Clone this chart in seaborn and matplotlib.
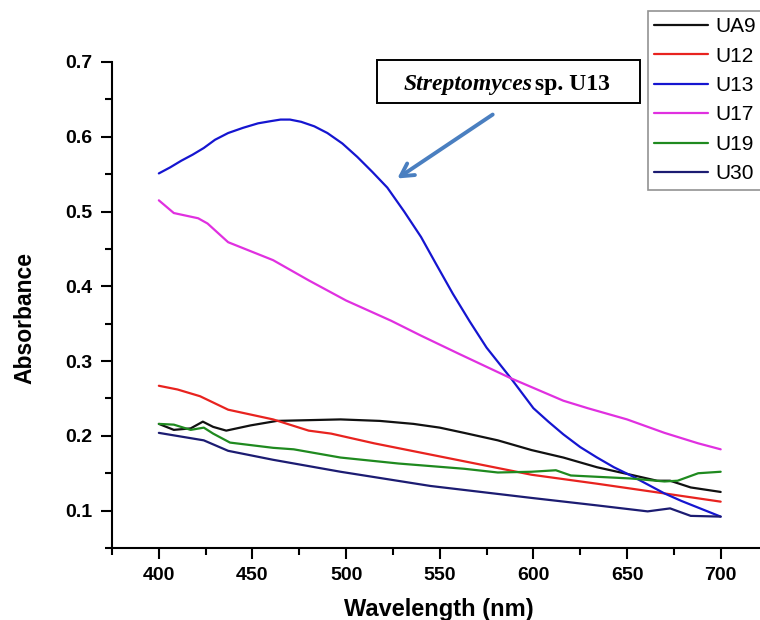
import pandas as pd
import matplotlib
matplotlib.use("Agg")
import matplotlib.pyplot as plt
from matplotlib.ticker import MultipleLocator
import seaborn as sns

# absorbance spectra
wl_ua9 = [400, 408, 417, 423.5, 429, 436, 449, 463, 480, 497, 518, 536, 550, 563, 581, 599, 616, 634, 652, 666, 673, 684, 700]
abs_ua9 = [0.216, 0.208, 0.210, 0.219, 0.212, 0.207, 0.214, 0.220, 0.221, 0.222, 0.220, 0.216, 0.211, 0.204, 0.194, 0.181, 0.171, 0.158, 0.148, 0.140, 0.140, 0.131, 0.125]

wl_u12 = [400, 410, 422, 437, 461, 480, 492, 515, 545, 599, 634, 670, 700]
abs_u12 = [0.267, 0.262, 0.253, 0.235, 0.222, 0.207, 0.203, 0.190, 0.175, 0.148, 0.136, 0.123, 0.112]

wl_u13 = [400, 406, 412, 418, 424, 430, 437, 445, 453, 460, 465, 470, 476, 483, 490, 498, 506, 514, 522, 531, 540, 548, 557, 566, 575, 588, 600, 608, 616, 625, 634, 643, 652, 661, 670, 679, 688, 700]
abs_u13 = [0.551, 0.559, 0.568, 0.576, 0.585, 0.596, 0.605, 0.612, 0.618, 0.621, 0.623, 0.623, 0.620, 0.614, 0.605, 0.591, 0.573, 0.553, 0.532, 0.500, 0.466, 0.430, 0.390, 0.353, 0.318, 0.277, 0.237, 0.219, 0.202, 0.185, 0.171, 0.158, 0.147, 0.135, 0.123, 0.113, 0.104, 0.092]

wl_u17 = [400, 408, 421, 426, 437, 461, 480, 500, 524, 540, 560, 588, 616, 629, 650, 670, 688, 700]
abs_u17 = [0.515, 0.498, 0.491, 0.484, 0.459, 0.435, 0.408, 0.381, 0.354, 0.334, 0.310, 0.277, 0.247, 0.237, 0.222, 0.204, 0.190, 0.182]

wl_u19 = [400, 408, 417, 424, 429, 438, 461, 472, 497, 528, 563, 581, 599, 612, 620, 652, 670, 677, 688, 700]
abs_u19 = [0.216, 0.215, 0.208, 0.211, 0.203, 0.191, 0.184, 0.182, 0.171, 0.163, 0.156, 0.151, 0.152, 0.154, 0.147, 0.143, 0.139, 0.140, 0.150, 0.152]

wl_u30 = [400, 424, 437, 461, 497, 545, 599, 634, 661, 673, 684, 700]
abs_u30 = [0.204, 0.194, 0.180, 0.168, 0.152, 0.133, 0.117, 0.107, 0.099, 0.103, 0.093, 0.092]

strains = ["UA9", "U12", "U13", "U17", "U19", "U30"]
colors = ["#111111", "#e8231f", "#1515d0", "#e030e0", "#1f8a1f", "#1c1c72"]

series = {
    "UA9": (wl_ua9, abs_ua9),
    "U12": (wl_u12, abs_u12),
    "U13": (wl_u13, abs_u13),
    "U17": (wl_u17, abs_u17),
    "U19": (wl_u19, abs_u19),
    "U30": (wl_u30, abs_u30),
}
frames = []
for name, (w, a) in series.items():
    frames.append(pd.DataFrame({"wavelength": w, "absorbance": a, "strain": name}))
df = pd.concat(frames, ignore_index=True)

sns.set_style("ticks")
plt.rcParams["font.family"] = ["Liberation Sans", "DejaVu Sans"]
plt.rcParams["text.color"] = "black"
plt.rcParams["axes.labelcolor"] = "black"
plt.rcParams["xtick.color"] = "black"
plt.rcParams["ytick.color"] = "black"

fig = plt.figure(figsize=(7.6, 6.2), dpi=100)
ax = fig.add_axes([0.1474, 0.1161, 0.8526, 0.7839])

sns.lineplot(data=df, x="wavelength", y="absorbance", hue="strain",
             hue_order=strains, palette=colors, sort=False, linewidth=1.6,
             legend=False, ax=ax)

ax.set_xlim(375, 721)
ax.set_ylim(0.05, 0.7)
ax.xaxis.set_minor_locator(MultipleLocator(25))
ax.yaxis.set_minor_locator(MultipleLocator(0.05))
ax.set_xticks([400, 450, 500, 550, 600, 650, 700])
ax.set_yticks([0.1, 0.2, 0.3, 0.4, 0.5, 0.6, 0.7])
ax.tick_params(which="major", direction="out", length=8, width=1.5, labelsize=14, pad=6)
ax.tick_params(which="minor", direction="out", length=5, width=1.5)
for lab in ax.get_xticklabels() + ax.get_yticklabels():
    lab.set_fontweight("bold")

for side in ["top", "right"]:
    ax.spines[side].set_visible(False)
for side in ["left", "bottom"]:
    ax.spines[side].set_linewidth(1.5)
    ax.spines[side].set_color("black")

ax.set_xlabel("Wavelength (nm)", fontsize=17, fontweight="bold", va="top")
ax.xaxis.set_label_coords(0.505, -0.103)
ax.set_ylabel("Absorbance", fontsize=16.5, fontweight="bold", va="center")
ax.yaxis.set_label_coords(-0.134, 0.473)

# legend at the right edge, its frame runs past the figure border
leg = fig.legend(handles=ax.lines[:6], labels=strains, loc="upper left",
                 bbox_to_anchor=(648 / 760, 1 - 11 / 620), frameon=True,
                 fontsize=15, handlelength=2.6, handletextpad=0.35,
                 labelspacing=0.5, borderpad=0.3, fancybox=False,
                 borderaxespad=0)
leg.get_frame().set_edgecolor("#777777")
leg.get_frame().set_linewidth(1.2)

# annotation box pointing at U13
box_x = (377 - 112) / 648
box_y = (548 - 103) / 486
box = plt.Rectangle((box_x, box_y), (640 - 377) / 648, (103 - 60) / 486,
                    transform=ax.transAxes, fill=True, facecolor="white",
                    edgecolor="black", linewidth=1.4, clip_on=False, zorder=5)
ax.add_patch(box)
cy = (548 - 84) / 486
ax.text((404 - 112) / 648, cy, "Streptomyces", transform=ax.transAxes,
        family="Liberation Serif", fontsize=17, fontweight="bold",
        style="italic", va="center", ha="left", zorder=6)
ax.text((529 - 112) / 648, cy, " sp. U13", transform=ax.transAxes,
        family="Liberation Serif", fontsize=17, fontweight="bold",
        va="center", ha="left", zorder=6)

ax.annotate("", xy=((395 - 112) / 648, (548 - 180) / 486),
            xytext=((495 - 112) / 648, (548 - 113) / 486),
            xycoords="axes fraction", textcoords="axes fraction",
            arrowprops=dict(arrowstyle="->,head_length=0.9,head_width=0.5",
                            color="#4a7fc0", lw=2.8))

fig.savefig("out.png", dpi=100)
